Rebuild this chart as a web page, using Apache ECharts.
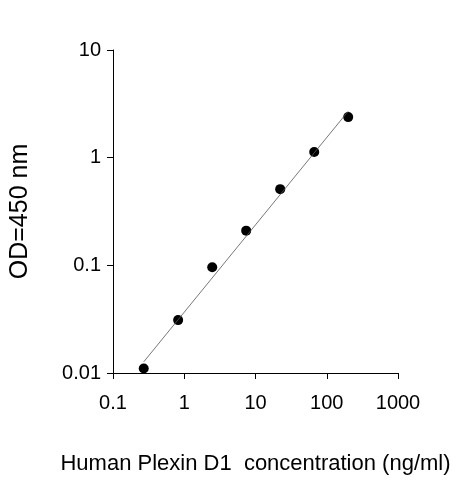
<!DOCTYPE html><html><head><meta charset="utf-8">
<script src="https://cdn.jsdelivr.net/npm/echarts@6/dist/echarts.min.js"></script>
<style>html,body{margin:0;background:#fff}#c{width:463px;height:480px}</style></head><body><div id="c"></div>
<script>
const conc=[0.27,0.82,2.47,7.4,22.2,66.7,200];
const od=[0.011,0.031,0.096,0.21,0.51,1.13,2.38];
const fitX=[0.27,200];
const fitY=[0.0127,2.7];
const c=echarts.init(document.getElementById('c'));
const ax={color:'#000',fontSize:20,fontFamily:'Liberation Sans, Arial'};
c.setOption({animation:false,
grid:{left:107,right:65,top:50,bottom:103},
xAxis:{type:'log',min:0.1,max:1000,logBase:10,name:'Human Plexin D1  concentration (ng/ml)',nameLocation:'middle',nameGap:80,nameTextStyle:{...ax,fontSize:22},
axisLine:{lineStyle:{color:'#000'}},axisTick:{inside:false,length:6,lineStyle:{color:'#000'}},splitLine:{show:false},minorTick:{show:false},
axisLabel:{...ax,margin:20,formatter:v=>String(+v.toPrecision(3))}},
yAxis:{type:'log',min:0.01,max:10,logBase:10,name:'OD=450 nm',nameLocation:'middle',nameGap:80,nameTextStyle:{...ax,fontSize:25},
axisLine:{show:true,lineStyle:{color:'#000'}},axisTick:{show:true,length:6,lineStyle:{color:'#000'}},splitLine:{show:false},
axisLabel:{...ax,margin:12,formatter:v=>String(+v.toPrecision(3))}},
series:[
{type:'line',data:fitX.map((x,i)=>[x,fitY[i]]),symbol:'none',lineStyle:{color:'#555',width:0.8}},
{type:'scatter',data:conc.map((x,i)=>[x,od[i]]),symbolSize:10,itemStyle:{color:'#000',opacity:1}}]});
</script></body></html>
